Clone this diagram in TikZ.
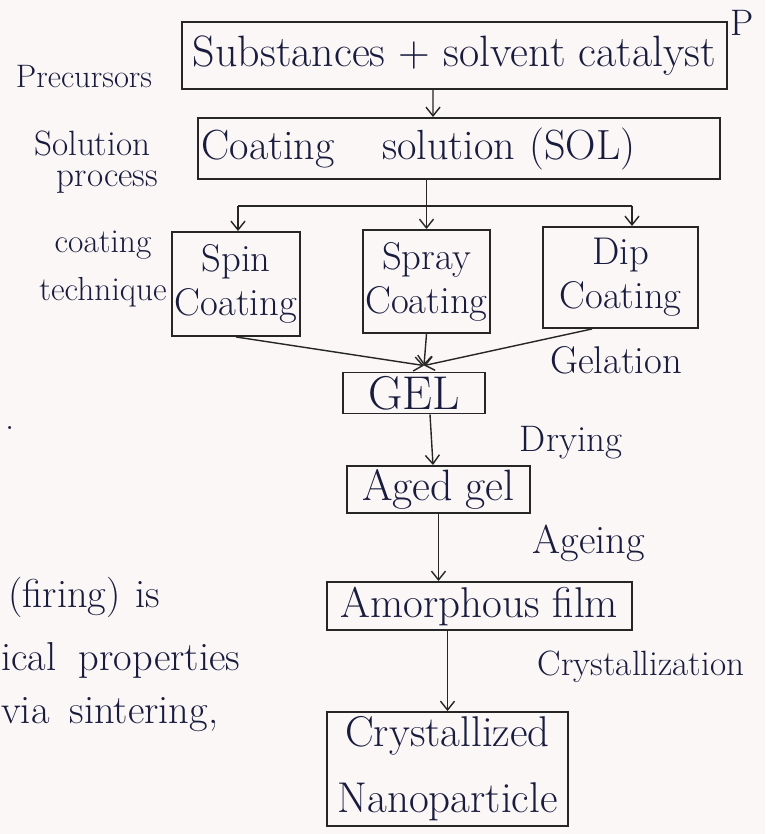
\documentclass[tikz,border=0pt]{standalone}
\definecolor{paper}{RGB}{250,247,246}
\definecolor{inkblue}{RGB}{26,28,62}
\usepackage{amsmath,amssymb}
\usepackage{tikz}
\usetikzlibrary{arrows.meta,positioning,calc}

\tikzset{
    stagebox/.style={draw=black!85, line width=1.1pt, text=inkblue, align=center,
        font=\fontsize{24}{26}\selectfont, inner sep=2pt},
    methodbox/.style={stagebox, inner xsep=0pt, font=\fontsize{22}{25}\selectfont},
    sidenote/.style={text=inkblue, font=\fontsize{21}{24}\selectfont, inner sep=0pt},
    flow/.style={draw=black!85, line width=0.8pt, -{Straight Barb[length=5pt,width=8pt]}},
    plainline/.style={draw=black!85, line width=0.8pt}
}

\begin{document}
\begin{tikzpicture}[x=0.02cm, y=-0.02cm]
    \fill[paper] (0,0) rectangle (765,834);
    \useasboundingbox (0,0) rectangle (765,834);

    % stages
    \node[stagebox, minimum width=10.9cm, minimum height=1.34cm, font=\fontsize{25}{28}\selectfont] (src) at (454.5,55.5) {Substances + solvent catalyst};
    \node[stagebox, minimum width=10.44cm, minimum height=1.22cm, text width=10.3cm, align=left, font=\fontsize{24}{26}\selectfont] (sol) at (459,148.5) {Coating\hspace{0.95cm}solution (SOL)};
    \node[methodbox, minimum width=2.56cm, minimum height=2.08cm] (spin) at (236,284) {Spin\\Coating};
    \node[methodbox, minimum width=2.54cm, minimum height=2.06cm] (spray) at (426.5,281.5) {Spray\\Coating};
    \node[methodbox, minimum width=3.1cm, minimum height=2.02cm] (dip) at (620.5,277.5) {Dip\\Coating};
    \node[stagebox, minimum width=2.84cm, minimum height=0.8cm, font=\fontsize{27}{30}\selectfont] (gel) at (414,393) {GEL};
    \node[stagebox, minimum width=3.66cm, minimum height=0.94cm, font=\fontsize{25}{28}\selectfont] (aged) at (438.5,489.5) {Aged\hspace{0.25cm}gel};
    \node[stagebox, minimum width=6.1cm, minimum height=0.96cm, font=\fontsize{24.5}{28}\selectfont] (amor) at (479.5,606) {Amorphous\hspace{0.25cm}film};
    \node[stagebox, minimum width=4.82cm, minimum height=2.28cm, font=\fontsize{24.5}{37.5}\selectfont] (cryst) at (447.5,769) {Crystallized\\Nanoparticle};

    % side notes
    \node[sidenote] (pmark) at (742,23) {P};
    \node[sidenote, font=\fontsize{18.5}{20}\selectfont] (prec) at (84,77) {Precursors};
    \node[sidenote, font=\fontsize{20}{18}\selectfont, align=left] (solproc) at (96,162) {Solution\\\hspace{0.45cm}process};
    \node[sidenote, font=\fontsize{19}{27}\selectfont, align=center] (tech) at (103,269) {coating\\technique};
    \node[sidenote, font=\fontsize{22}{24}\selectfont] (gelation) at (616,360) {Gelation};
    \node[sidenote] (drying) at (571,443) {Drying};
    \node[sidenote, font=\fontsize{23}{26}\selectfont] (ageing) at (589,543) {Ageing};
    \node[sidenote, font=\fontsize{20}{24}\selectfont] (crystn) at (641,667) {Crystallization};

    % cut-off notes on the left
    \node[sidenote] (dotmark) at (10,428) {.};
    \node[sidenote, anchor=west, font=\fontsize{23}{26}\selectfont] (firing) at (8,597) {(firing)\hspace{0.3cm}is};
    \node[sidenote, anchor=west, font=\fontsize{23}{26}\selectfont] (props) at (1,660) {ical\hspace{0.45cm}properties};
    \node[sidenote, anchor=west, font=\fontsize{23}{26}\selectfont] (sinter) at (1,715) {via\hspace{0.4cm}sintering,};

    % connectors
    \coordinate (forkL) at (238,206);
    \coordinate (forkR) at (632,206);
    \coordinate (gelin) at ([xshift=0.2cm,yshift=0.12cm]gel.north);

    \draw[flow] ([xshift=-0.43cm]src.south) -- ([xshift=-0.52cm]sol.north);
    \draw[flow] (sol.south -| spray.north) -- (spray.north);
    \draw[plainline] (forkL) -- (forkR);
    \draw[flow] (forkL) -- (forkL |- spin.north);
    \draw[flow] (forkR) -- (forkR |- dip.north);

    \draw[flow] (spin.south) -- (gelin);
    \draw[flow] (spray.south) -- (gelin);
    \draw[flow] ([xshift=-0.57cm]dip.south) -- (gelin);

    \draw[flow] ([xshift=0.32cm]gel.south) -- ([xshift=-0.11cm]aged.north);
    \draw[flow] (aged.south) -- (aged.south |- amor.north);
    \draw[flow] (cryst.north |- amor.south) -- (cryst.north);
\end{tikzpicture}
\end{document}
